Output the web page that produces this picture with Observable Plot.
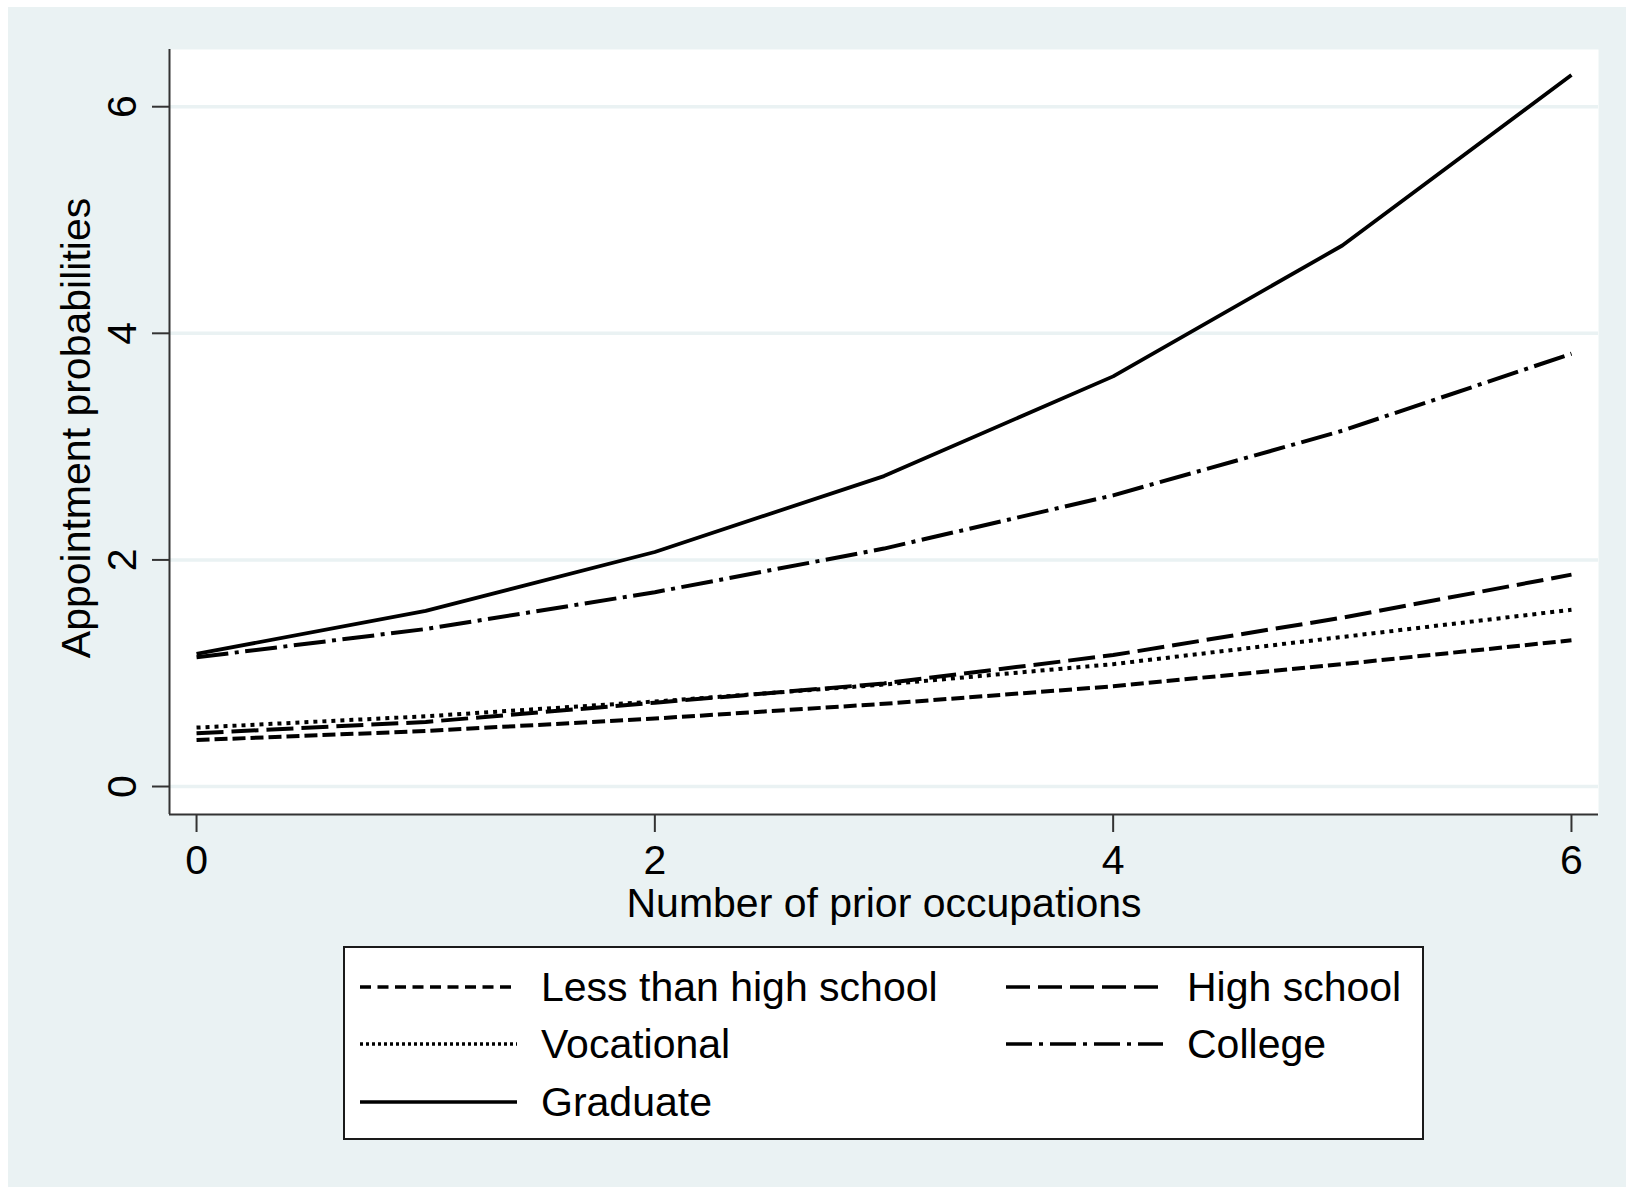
<!DOCTYPE html>
<html>
<head>
<meta charset="utf-8">
<script src="https://cdn.jsdelivr.net/npm/d3@7"></script>
<script src="https://cdn.jsdelivr.net/npm/@observablehq/plot@0.6"></script>
<style>
  body { margin: 0; background: #fff; }
  #page { position: relative; width: 1626px; height: 1187px; overflow: hidden;
          font-family: "Liberation Sans", Arial, Helvetica, sans-serif; }
  #panel { position: absolute; left: 8px; top: 7px; width: 1618px; height: 1180px; background: #eaf2f3; }
  #chart { position: absolute; left: 0; top: 0; }
  #legend { position: absolute; left: 343px; top: 946px; width: 1081px; height: 194px;
            box-sizing: border-box; border: 2px solid #1a1a1a; background: #fff; }
  .item { position: absolute; height: 50px; display: flex; align-items: center;
          font-size: 41px; color: #000; white-space: nowrap; }
  .item svg { flex: none; margin-right: 24px; }
</style>
</head>
<body>
<div id="page">
  <div id="panel"></div>
  <div id="chart"></div>
  <div id="legend"></div>
</div>
<script>
// ---- data ----
const xValues = [0, 1, 2, 3, 4, 5, 6];
const lessThanHighSchool = [0.41, 0.49, 0.60, 0.73, 0.885, 1.08, 1.29];
const highSchool         = [0.47, 0.57, 0.74, 0.91, 1.16, 1.49, 1.87];
const vocational         = [0.52, 0.62, 0.75, 0.90, 1.08, 1.32, 1.56];
const college            = [1.14, 1.39, 1.715, 2.10, 2.57, 3.14, 3.82];
const graduate           = [1.17, 1.55, 2.07, 2.74, 3.62, 4.775, 6.28];

const seriesNames = ["Less than high school", "High school", "Vocational", "College", "Graduate"];
const seriesValues = [lessThanHighSchool, highSchool, vocational, college, graduate];

const xTicks = [0, 2, 4, 6];
const yTicks = [0, 2, 4, 6];
const xTitle = "Number of prior occupations";
const yTitle = "Appointment probabilities";

// ---- styles ----
const xDomain = [-0.118, 6.118];
const yDomain = [-0.247, 6.505];
const dashPlot = ["13,5", "27,8", "4,5", "32,6.5,4,6.5", null];
const dashLegend = ["11,6.5", "24,8", "3,3", "26,7,4,7", null];
const widths = [4, 4, 4, 4, 3.8];
const bg = "#eaf2f3";
const font = '"Liberation Sans", Arial, Helvetica, sans-serif';

const rows = seriesNames.map((name, i) => xValues.map((x, j) => ({series: name, x, y: seriesValues[i][j]})));

const lineMarks = rows.map((data, i) => Plot.line(data, {
  x: "x", y: "y", stroke: "#000", strokeWidth: widths[i],
  strokeDasharray: dashPlot[i] || undefined, strokeLinecap: "butt", strokeLinejoin: "round"
}));

const chart = Plot.plot({
  width: 1626, height: 940,
  marginLeft: 169, marginRight: 28, marginTop: 49, marginBottom: 126,
  x: {domain: xDomain},
  y: {domain: yDomain},
  style: {background: "transparent", fontFamily: font, color: "#000", overflow: "visible"},
  marks: [
    Plot.frame({fill: "#fff", stroke: "none"}),
    Plot.gridY(yTicks, {stroke: bg, strokeOpacity: 1, strokeWidth: 3.5}),
    Plot.ruleX([xDomain[0]], {stroke: "#333", strokeWidth: 2}),
    Plot.ruleY([yDomain[0]], {stroke: "#333", strokeWidth: 2}),
    Plot.axisY(yTicks, {anchor: "left", tickSize: 17, tickPadding: 17, tickRotate: -90,
      fontSize: 41, label: null, stroke: "#333", strokeWidth: 2, tickFormat: d => String(d)}),
    Plot.axisX(xTicks, {anchor: "bottom", tickSize: 18, tickPadding: 12,
      fontSize: 41, label: null, stroke: "#333", strokeWidth: 2, tickFormat: d => String(d)}),
    ...lineMarks,
    Plot.text([xTitle], {text: d => d, frameAnchor: "bottom", dy: 102, lineAnchor: "bottom",
      textAnchor: "middle", fontSize: 41}),
    Plot.text([yTitle], {text: d => d, frameAnchor: "left", dx: -80, dy: -4, rotate: -90,
      lineAnchor: "bottom", textAnchor: "middle", fontSize: 41})
  ]
});
document.getElementById("chart").appendChild(chart);

// ---- legend ----
const legend = document.getElementById("legend");
const legendPos = [
  {left: 15, top: 14}, {left: 661, top: 14},
  {left: 15, top: 71}, {left: 661, top: 71},
  {left: 15, top: 129}
];
seriesNames.forEach((name, i) => {
  const item = document.createElement("div");
  item.className = "item";
  item.style.left = legendPos[i].left + "px";
  item.style.top = legendPos[i].top + "px";
  const dash = dashLegend[i] ? `stroke-dasharray="${dashLegend[i]}"` : "";
  item.innerHTML = `<svg width="157" height="12"><line x1="0" x2="157" y1="6" y2="6" stroke="#000" stroke-width="3.5" ${dash}/></svg><span>${name}</span>`;
  legend.appendChild(item);
});
</script>
</body>
</html>
